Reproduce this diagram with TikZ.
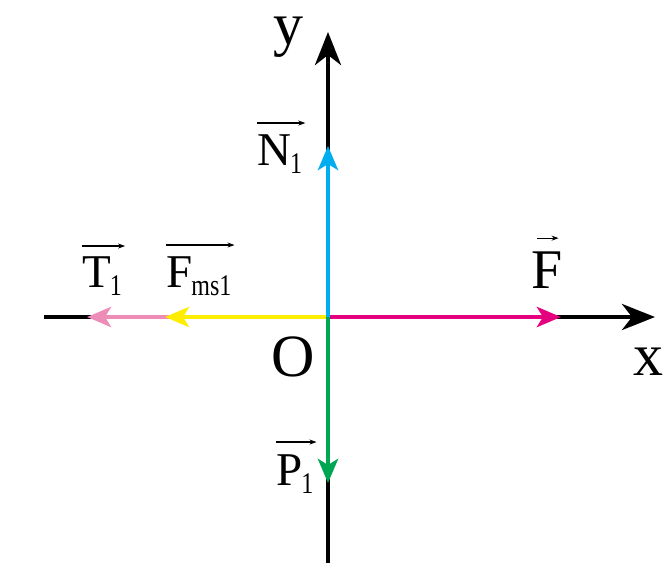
\documentclass[tikz,border=0pt]{standalone}
\usepackage{fontspec}
\setmainfont{Liberation Serif}
\newfontfamily\subfont[FakeStretch=0.8]{Liberation Serif}
\usetikzlibrary{arrows.meta}
\definecolor{cpink}{HTML}{EE8CB8}
\definecolor{cyel}{HTML}{FFED00}
\definecolor{cmag}{HTML}{E5007D}
\definecolor{cblue}{HTML}{00AEEF}
\definecolor{cgreen}{HTML}{00A651}
\newcommand{\subone}[1]{\kern-1pt\raisebox{-8pt}{\subfont\fontsize{30}{34}\selectfont #1}}
\begin{document}
\begin{tikzpicture}[x=1pt,y=-1pt,
  axis/.style={line width=4.5pt, -{Stealth[length=33pt,width=26pt,inset=10pt]}},
  force/.style={line width=4.5pt, -{Stealth[length=24pt,width=20pt,inset=6pt]}},
  lbl/.style={inner sep=0pt, anchor=base west, font=\fontsize{47}{50}\selectfont},
  big/.style={inner sep=0pt, font=\fontsize{60}{66}\selectfont},
  vec/.style={line width=1.2pt, -{Stealth[length=7pt,width=5pt]}}]
\useasboundingbox (0,0) rectangle (668,582);
% axes
\coordinate (O) at (328,317);
\coordinate (xl) at (44,317);
\coordinate (xr) at (655,317);
\coordinate (yb) at (328,563);
\coordinate (yt) at (328,32);
\draw[line width=4.5pt] (xl) -- (O);
\draw[axis] (O) -- (xr);
\draw[line width=4.5pt] (yb) -- (O);
\draw[axis] (O) -- (yt);
% force tips
\coordinate (Ttip) at (87,317);
\coordinate (Ytip) at (165,317);
\coordinate (Ftip) at (561,317);
\coordinate (Ntip) at (328,146);
\coordinate (Ptip) at (328,483);
\draw[force, cpink] (O) -- (Ttip);
\draw[force, cyel] (O) -- (Ytip);
\draw[force, cmag] (O) -- (Ftip);
\draw[force, cblue] (O) -- (Ntip);
\draw[force, cgreen] (O) -- (Ptip);
% axis labels
\node[big] (Olbl) at (293,357) {O};
\node[big] (xlbl) at (648,362) {x};
\node[big] (ylbl) at (288,37) {y};
% force labels
\node[lbl] (T1) at (82,287) {T\subone{1}};
\node[lbl] (Fms) at (166,287) {F\subone{ms1}};
\node[lbl] (N1) at (257,165) {N\subone{1}};
\node[lbl] (P1) at (276,485) {P\subone{1}};
\node[lbl, font=\fontsize{56}{60}\selectfont] (F) at (531,288) {F};
\draw[vec] ([yshift=10pt]T1.north west) -- ([yshift=10pt,xshift=3pt]T1.north east);
\draw[vec] ([yshift=11pt]Fms.north west) -- ([yshift=11pt,xshift=3pt]Fms.north east);
\draw[vec] ([yshift=11pt]N1.north west) -- ([yshift=11pt,xshift=3pt]N1.north east);
\draw[vec] ([yshift=12pt]P1.north west) -- ([yshift=12pt,xshift=3pt]P1.north east);
\draw[vec] ([yshift=13pt,xshift=6pt]F.north west) -- ([yshift=13pt,xshift=-4pt]F.north east);
\end{tikzpicture}
\end{document}
